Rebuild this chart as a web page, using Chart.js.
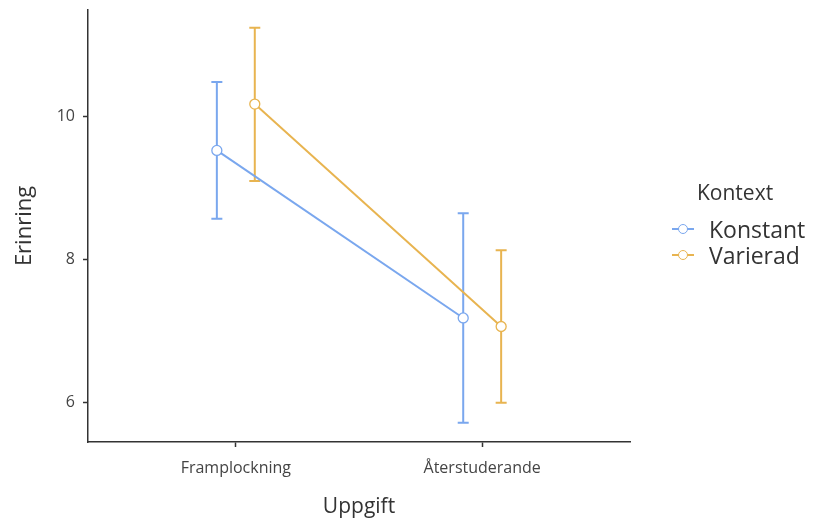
<!DOCTYPE html>
<html>
<head>
<meta charset="utf-8">
<script src="https://cdn.jsdelivr.net/npm/chart.js@4"></script>
<style>
  body { margin: 0; background: #fff; font-family: "Open Sans", sans-serif; }
  #wrap { position: relative; width: 815px; height: 524px; }
  #legend { position: absolute; left: 670px; top: 177px; color: #333; }
  #legend .title { font-size: 21px; margin-left: 27px; margin-bottom: 9px; line-height: 30px; }
  #legend .item { display: flex; align-items: center; font-size: 23px; height: 26px; }
  #legend .sym { position: relative; width: 26px; height: 14px; margin-right: 13px; }
  #legend .sym .ln { position: absolute; left: 2px; right: 2px; top: 6px; height: 2px; }
  #legend .sym .dot { position: absolute; left: 8px; top: 2px; width: 8px; height: 8px; border-radius: 50%; background: #fff; border: 1.3px solid; }
</style>
</head>
<body>
<div id="wrap">
  <canvas id="myChart" width="815" height="524"></canvas>
  <div id="legend"></div>
</div>
<script>
// Data
const categories = ["Framplockning", "Återstuderande"];
const groups = ["Konstant", "Varierad"];
const konstantMean = [9.53, 7.18];
const konstantLow = [8.57, 5.71];
const konstantHigh = [10.49, 8.65];
const varieradMean = [10.18, 7.06];
const varieradLow = [9.10, 5.99];
const varieradHigh = [11.25, 8.13];
const yTicks = [6, 8, 10];

const colors = ["#7AA7EE", "#E8B450"];
const dodge = 0.077;

function makeSet(name, means, lows, highs, color, offset) {
    return {
        label: name,
        data: means.map((m, i) => ({ x: i + 1 + offset, y: m, lo: lows[i], hi: highs[i] })),
        borderColor: color,
        backgroundColor: "#fff",
        pointBorderColor: color,
        pointBackgroundColor: "#fff",
        pointRadius: 5,
        pointBorderWidth: 1.3,
        borderWidth: 2,
        showLine: true,
        tension: 0
    };
}

// error bars, drawn through the chart scales
const errorBars = {
    id: "errorBars",
    beforeDatasetsDraw(chart) {
        const { ctx, scales: { x, y } } = chart;
        chart.data.datasets.forEach(ds => {
            ctx.save();
            ctx.strokeStyle = ds.borderColor;
            ctx.lineWidth = 2;
            ds.data.forEach(p => {
                const px = x.getPixelForValue(p.x);
                const top = y.getPixelForValue(p.hi);
                const bot = y.getPixelForValue(p.lo);
                ctx.beginPath();
                ctx.moveTo(px, top); ctx.lineTo(px, bot);
                ctx.moveTo(px - 5.5, top); ctx.lineTo(px + 5.5, top);
                ctx.moveTo(px - 5.5, bot); ctx.lineTo(px + 5.5, bot);
                ctx.stroke();
            });
            ctx.restore();
        });
    }
};

const ctx = document.getElementById("myChart").getContext("2d");

const config = {
    type: "scatter",
    data: {
        datasets: [
            makeSet(groups[0], konstantMean, konstantLow, konstantHigh, colors[0], -dodge),
            makeSet(groups[1], varieradMean, varieradLow, varieradHigh, colors[1], dodge)
        ]
    },
    options: {
        responsive: false,
        animation: false,
        layout: { padding: { top: 10, right: 185, left: 0, bottom: 0 } },
        plugins: {
            legend: { display: false },
            tooltip: { enabled: false }
        },
        scales: {
            x: {
                type: "linear",
                min: 0.4,
                max: 2.6,
                afterBuildTicks: axis => { axis.ticks = categories.map((c, i) => ({ value: i + 1 })); },
                afterFit: axis => { axis.height = 82; axis.paddingLeft = 0; axis.paddingRight = 0; },
                ticks: {
                    callback: v => categories[v - 1],
                    color: "#444",
                    padding: 12,
                    autoSkip: false,
                    maxRotation: 0,
                    font: { size: 16, family: "Open Sans" }
                },
                grid: { drawOnChartArea: false, drawTicks: true, tickLength: 5, tickColor: "#333", tickWidth: 1.5 },
                border: { display: true, color: "#333", width: 1.5 },
                title: {
                    display: true,
                    text: "Uppgift",
                    color: "#333",
                    padding: { top: 6 },
                    font: { size: 21, family: "Open Sans" }
                }
            },
            y: {
                min: 5.44,
                max: 11.5,
                afterBuildTicks: axis => { axis.ticks = yTicks.map(v => ({ value: v })); },
                afterFit: axis => { axis.width = 88; axis.paddingTop = 0; axis.paddingBottom = 0; },
                ticks: {
                    color: "#444",
                    padding: 8,
                    font: { size: 16, family: "Open Sans" }
                },
                grid: { drawOnChartArea: false, drawTicks: true, tickLength: 5, tickColor: "#333", tickWidth: 1.5 },
                border: { display: true, color: "#333", width: 1.5 },
                title: {
                    display: true,
                    text: "Erinring",
                    color: "#333",
                    padding: { top: 12, bottom: 4 },
                    font: { size: 22, family: "Open Sans" }
                }
            }
        }
    },
    plugins: [errorBars]
};

const myChart = new Chart(ctx, config);

// Legend
const legend = document.getElementById("legend");
let html = '<div class="title">Kontext</div>';
groups.forEach((g, i) => {
    html += '<div class="item"><span class="sym"><span class="ln" style="background:' + colors[i] + '"></span>' +
        '<span class="dot" style="border-color:' + colors[i] + '"></span></span>' + g + '</div>';
});
legend.innerHTML = html;
</script>
</body>
</html>
